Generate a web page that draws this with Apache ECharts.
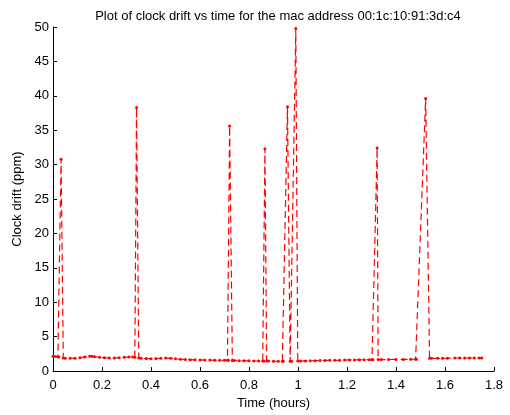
<!DOCTYPE html>
<html>
<head>
<meta charset="utf-8">
<script src="https://cdn.jsdelivr.net/npm/echarts@6/dist/echarts.min.js"></script>
<style>
  html, body { margin: 0; padding: 0; background: #fff; }
  #chart { width: 510px; height: 415px; }
</style>
</head>
<body>
<div id="chart"></div>
<script>
// Sample times (hours) and measured clock drift (ppm)
const timeHours = [
  0.000, 0.010, 0.020, 0.024, 0.033, 0.042,
  0.050, 0.070, 0.090, 0.110, 0.130, 0.150, 0.160, 0.170, 0.190, 0.210, 0.230, 0.250, 0.270, 0.290, 0.310, 0.325,
  0.334, 0.341, 0.350,
  0.360, 0.380, 0.400, 0.420, 0.440, 0.460, 0.480, 0.500, 0.520, 0.540, 0.560, 0.580, 0.600, 0.620, 0.640, 0.660, 0.680, 0.700, 0.712,
  0.716, 0.721, 0.732,
  0.740, 0.760, 0.780, 0.800, 0.820, 0.840, 0.856,
  0.861, 0.865, 0.872,
  0.880, 0.900, 0.920, 0.936,
  0.940, 0.957, 0.968,
  0.974, 0.991, 0.999,
  1.010, 1.030, 1.050, 1.070, 1.090, 1.110, 1.130, 1.150, 1.170, 1.190, 1.210, 1.230, 1.250, 1.270, 1.290, 1.302,
  1.306, 1.323, 1.327,
  1.340, 1.370, 1.400, 1.430, 1.460, 1.480,
  1.483, 1.521, 1.537,
  1.545, 1.570, 1.590, 1.610, 1.640, 1.660, 1.680, 1.700, 1.720, 1.740, 1.750
];
const driftPpm = [
  2.15, 2.12, 2.10, 2.05, 30.8, 1.90,
  1.85, 1.85, 1.88, 1.95, 2.05, 2.15, 2.16, 2.10, 2.00, 1.95, 1.92, 1.92, 1.95, 2.00, 2.05, 2.05,
  2.00, 38.3, 1.90,
  1.85, 1.82, 1.80, 1.82, 1.85, 1.90, 1.85, 1.78, 1.72, 1.68, 1.66, 1.64, 1.62, 1.60, 1.60, 1.58, 1.58, 1.57, 1.56,
  1.56, 35.6, 1.55,
  1.55, 1.52, 1.50, 1.50, 1.48, 1.47, 1.46,
  1.46, 32.3, 1.45,
  1.45, 1.43, 1.42, 1.42,
  1.42, 38.4, 1.44,
  1.44, 49.8, 1.45,
  1.45, 1.48, 1.50, 1.52, 1.53, 1.55, 1.56, 1.57, 1.58, 1.60, 1.62, 1.63, 1.64, 1.65, 1.66, 1.66,
  1.66, 32.4, 1.67,
  1.68, 1.68, 1.70, 1.70, 1.72, 1.72,
  1.72, 39.6, 1.85,
  1.85, 1.85, 1.87, 1.87, 1.90, 1.90, 1.90, 1.90, 1.90, 1.90, 1.90
];

const xTicks = { min: 0, max: 1.8, step: 0.2 };
const yTicks = { min: 0, max: 50, step: 5 };

const points = timeHours.map((t, i) => [t, driftPpm[i]]);

const font = 'Liberation Sans, Arial, Helvetica, sans-serif';
const chart = echarts.init(document.getElementById('chart'), null, { renderer: 'canvas' });

const axisCommon = {
  axisLine: { show: true, onZero: false, lineStyle: { color: '#000', width: 1 } },
  axisTick: { show: true, inside: true, length: 4, lineStyle: { color: '#000' } },
  splitLine: { show: false },
  nameLocation: 'middle',
  nameTextStyle: { color: '#000', fontSize: 13, fontFamily: font },
  axisLabel: { color: '#000', fontSize: 13, fontFamily: font }
};

chart.setOption({
  animation: false,
  backgroundColor: '#fff',
  title: {
    text: 'Plot of clock drift vs time for the mac address 00:1c:10:91:3d:c4',
    left: 273, top: 5, textAlign: 'center',
    textStyle: { color: '#000', fontSize: 13, fontWeight: 'normal', fontFamily: font }
  },
  grid: { left: 53, right: 16, top: 27, bottom: 41, containLabel: false },
  xAxis: Object.assign({}, axisCommon, {
    type: 'value',
    min: xTicks.min, max: xTicks.max, interval: xTicks.step,
    name: 'Time (hours)', nameGap: 23,
    axisLabel: Object.assign({}, axisCommon.axisLabel, { margin: 8 })
  }),
  yAxis: Object.assign({}, axisCommon, {
    type: 'value',
    min: yTicks.min, max: yTicks.max, interval: yTicks.step,
    name: 'Clock drift (ppm)', nameGap: 23,
    axisLabel: Object.assign({}, axisCommon.axisLabel, { margin: 4 })
  }),
  series: [{
    type: 'line',
    data: points,
    showAllSymbol: true,
    symbol: 'circle',
    symbolSize: 3,
    itemStyle: { color: '#ff0000' },
    lineStyle: { color: '#ff0000', width: 1.2, type: [7, 4] },
    emphasis: { disabled: true }
  }]
});
</script>
</body>
</html>
